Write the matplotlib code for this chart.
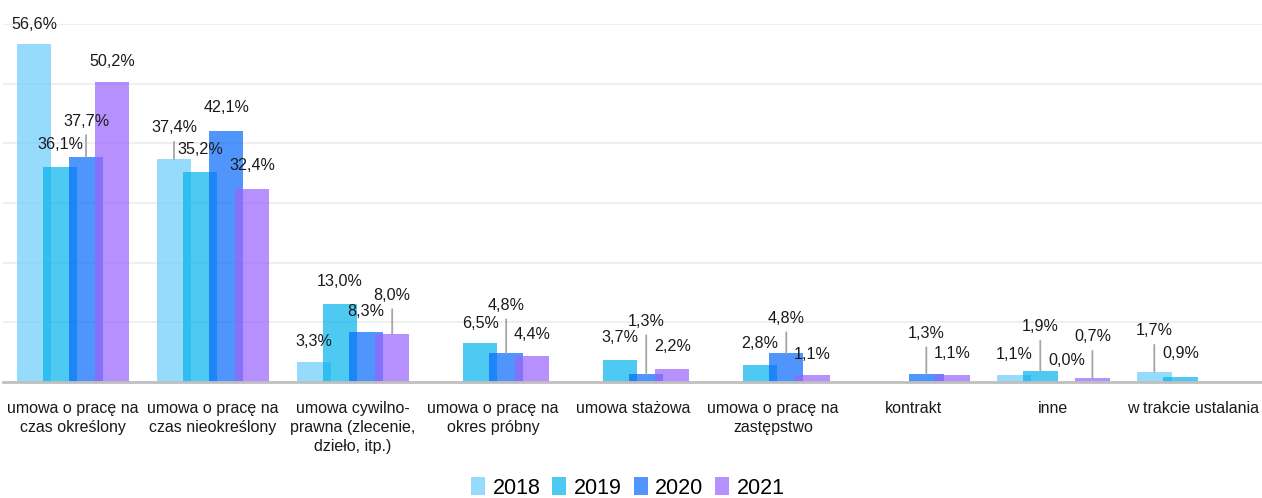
import numpy as np
import matplotlib
matplotlib.use('Agg')
import matplotlib.pyplot as plt

plt.rcParams['font.family'] = ['Liberation Sans', 'DejaVu Sans']

categories = [
    'umowa o pracę na\nczas określony',
    'umowa o pracę na\nczas nieokreślony',
    'umowa cywilno-\nprawna (zlecenie,\ndzieło, itp.)',
    'umowa o pracę na\nokres próbny',
    'umowa stażowa',
    'umowa o pracę na\nzastępstwo',
    'kontrakt',
    'inne',
    'w trakcie ustalania',
]
years = ['2018', '2019', '2020', '2021']
nan = np.nan
v2018 = [56.6, 37.4, 3.3, nan, nan, nan, nan, 1.1, 1.7]
v2019 = [36.1, 35.2, 13.0, 6.5, 3.7, 2.8, nan, 1.9, 0.9]
v2020 = [37.7, 42.1, 8.3, 4.8, 1.3, 4.8, 1.3, 0.0, nan]
v2021 = [50.2, 32.4, 8.0, 4.4, 2.2, 1.1, 1.1, 0.7, nan]
series = [v2018, v2019, v2020, v2021]

# label lift above bar top, in pixels (big lifts get a leader line)
lift2018 = [20, 31, 21, 0, 0, 0, 0, 21, 41]
lift2019 = [22, 22, 23, 20, 22, 22, 0, 44, 23]
lift2020 = [36, 23, 21, 48, 53, 35, 41, 22, 0]
lift2021 = [21, 23, 39, 21, 22, 21, 22, 41, 0]
lifts = [lift2018, lift2019, lift2020, lift2021]

colors = ['#6fcdfc', '#09b4ed', '#0b6dfa', '#9a65fc']
alpha = 0.72

fig = plt.figure(figsize=(12.62, 4.98), dpi=100)
ax = fig.add_axes([3 / 1262, 116 / 498, 1259 / 1262, 358 / 498])

x = np.arange(len(categories))
width = 0.246
step = 0.186

for i, (vals, col, yr) in enumerate(zip(series, colors, years)):
    xs = x + (i - 1.5) * step
    ax.bar(xs, vals, width=width, color=col, alpha=alpha, label=yr, zorder=2, linewidth=0)
    for xi, v, lf in zip(xs, vals, lifts[i]):
        if np.isnan(v):
            continue
        txt = f'{v:.1f}'.replace('.', ',') + '%'
        ax.annotate(txt, xy=(xi, v), xytext=(0, lf), textcoords='offset pixels',
                    ha='center', va='center', fontsize=11.6, color='#1a1a1a', zorder=4)
        if lf >= 30:
            ax.annotate('', xy=(xi, v), xytext=(0, lf - 14), textcoords='offset pixels',
                        arrowprops=dict(arrowstyle='-', color='#a6a6a6', lw=1.3,
                                        shrinkA=0, shrinkB=0), zorder=3)

ax.set_xlim(-0.5, 8.49)
ax.set_ylim(0, 60)
ax.set_yticks(np.arange(10, 61, 10))
ax.yaxis.grid(True, color='#eeeeee', lw=1.3, zorder=0)
ax.set_axisbelow(True)
ax.tick_params(axis='y', length=0, labelleft=False)
ax.set_xticks(x)
ax.set_xticklabels(categories, fontsize=11.5, color='#1a1a1a', linespacing=1.3)
ax.tick_params(axis='x', length=0, pad=14)
for s in ['top', 'right', 'left']:
    ax.spines[s].set_visible(False)
ax.spines['bottom'].set_color('#bfbfbf')
ax.spines['bottom'].set_linewidth(2)
ax.spines['bottom'].set_zorder(5)

fig.legend(loc='center', bbox_to_anchor=(628 / 1262, 1 - 488 / 498), ncol=4,
           frameon=False, fontsize=15.5, handlelength=0.65, handleheight=0.9,
           columnspacing=0.55, handletextpad=0.35, borderpad=0)

fig.savefig('out.png', dpi=100)
